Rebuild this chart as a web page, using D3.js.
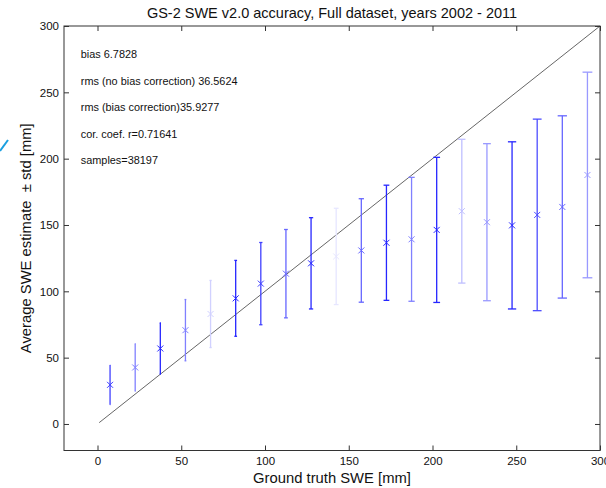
<!DOCTYPE html>
<html>
<head>
<meta charset="utf-8">
<script src="https://cdn.jsdelivr.net/npm/d3@7"></script>
<style>
  body { margin: 0; background: #fff; }
  svg { display: block; font-family: "Liberation Sans", Arial, sans-serif; }
</style>
</head>
<body>
<svg id="chart"></svg>
<script>
// bin centres of ground truth SWE [mm]
const binCenters = [7.5, 22.5, 37.5, 52.5, 67.5, 82.5, 97.5, 112.5, 127.5, 142.5,
  157.5, 172.5, 187.5, 202.5, 217.5, 232.5, 247.5, 262.5, 277.5, 292.5]
// average estimate per bin
const meanEstimate = [29.5, 42.6, 56.9, 70.7, 82.9, 94.7, 105.8, 113.3, 121.1, 126.3,
  130.8, 136.6, 139.2, 146.3, 160.4, 152.1, 149.7, 157.6, 163.6, 187.7]
// standard deviation per bin
const stdEstimate = [15.0, 17.9, 19.3, 23.1, 25.3, 28.6, 31.0, 33.3, 34.4, 36.3,
  39.0, 43.4, 46.7, 54.7, 54.2, 59.2, 63.0, 72.2, 68.7, 77.5]
// colour strength of each bin (as drawn)
const binShade = [0.75, 0.5, 0.85, 0.5, 0.18, 0.85, 0.75, 0.6, 0.85, 0.1,
  0.6, 0.85, 0.5, 0.85, 0.25, 0.4, 0.85, 0.7, 0.6, 0.4]
const statLines = [
  'bias 6.7828',
  'rms (no bias correction) 36.5624',
  'rms (bias correction)35.9277',
  'cor. coef. r=0.71641',
  'samples=38197'
]
const statY = [280, 260, 240, 220, 200]
const xTicks = [0, 50, 100, 150, 200, 250, 300]
const yTicks = [0, 50, 100, 150, 200, 250, 300]

const width = 606
const height = 488
const svg = d3.select('#chart').attr('width', width).attr('height', height)

const x = d3.scaleLinear().domain([-20, 300]).range([64, 600])
const y = d3.scaleLinear().domain([-20, 300]).range([450.5, 26])

const data = binCenters.map((c, i) => ({
  x: c, mean: meanEstimate[i], std: stdEstimate[i], shade: binShade[i]
}))
// blue mixed into white
const blue = s => d3.interpolateRgb('#ffffff', '#0000ff')(s)

// stray cyan stroke at the left edge
svg.append('line')
  .attr('x1', 0).attr('y1', 151).attr('x2', 8).attr('y2', 140)
  .attr('stroke', '#1a9fe0').attr('stroke-width', 2)

// 1:1 line
svg.append('line')
  .attr('x1', x(1)).attr('y1', y(1))
  .attr('x2', x(300)).attr('y2', y(300))
  .attr('stroke', '#555').attr('stroke-width', 0.9)

// error bars
const bars = svg.selectAll('.bar').data(data).enter().append('g').attr('class', 'bar')
  .attr('stroke', d => blue(d.shade))
  .attr('stroke-width', 1.3)
  .attr('fill', 'none')
bars.append('line')
  .attr('x1', d => x(d.x)).attr('x2', d => x(d.x))
  .attr('y1', d => y(d.mean - d.std)).attr('y2', d => y(d.mean + d.std))
// caps: half-width one hundredth of x
bars.each(function (d) {
  const g = d3.select(this)
  const tee = d.x / 100
  ;[d.mean - d.std, d.mean + d.std].forEach(v => {
    g.append('line')
      .attr('x1', x(d.x - tee)).attr('x2', x(d.x + tee))
      .attr('y1', y(v)).attr('y2', y(v))
  })
  const cx = x(d.x)
  const cy = y(d.mean)
  const m = 3
  g.append('path')
    .attr('d', `M${cx - m},${cy - m}L${cx + m},${cy + m}M${cx - m},${cy + m}L${cx + m},${cy - m}`)
    .attr('stroke-width', 1)
})

// axes box with inward ticks
const axisColor = '#333'
const frame = svg.append('g')
frame.append('rect')
  .attr('x', x(-20)).attr('y', y(300))
  .attr('width', x(300) - x(-20)).attr('height', y(-20) - y(300))
  .attr('fill', 'none').attr('stroke', axisColor).attr('stroke-width', 1)

const bottomAxis = d3.axisBottom(x).tickValues(xTicks).tickSizeInner(-5).tickSizeOuter(0).tickPadding(6)
const topAxis = d3.axisTop(x).tickValues(xTicks).tickSizeInner(-5).tickSizeOuter(0).tickFormat('')
const leftAxis = d3.axisLeft(y).tickValues(yTicks).tickSizeInner(-5).tickSizeOuter(0).tickPadding(5)
const rightAxis = d3.axisRight(y).tickValues(yTicks).tickSizeInner(-5).tickSizeOuter(0).tickFormat('')

function styleAxis (g) {
  g.select('.domain').remove()
  g.selectAll('.tick line').attr('stroke', axisColor)
  g.selectAll('.tick text').attr('fill', '#111').attr('font-size', 11.5)
    .attr('font-family', '"Liberation Sans", Arial, sans-serif')
}
svg.append('g').attr('transform', `translate(0,${y(-20)})`).call(bottomAxis).call(styleAxis)
svg.append('g').attr('transform', `translate(0,${y(300)})`).call(topAxis).call(styleAxis)
svg.append('g').attr('transform', `translate(${x(-20)},0)`).call(leftAxis).call(styleAxis)
svg.append('g').attr('transform', `translate(${x(300)},0)`).call(rightAxis).call(styleAxis)

// statistics text
svg.selectAll('.stat').data(statLines).enter().append('text')
  .attr('class', 'stat')
  .attr('x', x(-10))
  .attr('y', (d, i) => y(statY[i]))
  .attr('dy', '0.5em')
  .attr('font-size', 10.9)
  .attr('fill', '#111')
  .text(d => d)

// title and axis labels
svg.append('text')
  .attr('x', (x(-20) + x(300)) / 2).attr('y', 18)
  .attr('text-anchor', 'middle').attr('font-size', 14.5).attr('fill', '#111')
  .text('GS-2 SWE v2.0 accuracy, Full dataset, years 2002 - 2011')
svg.append('text')
  .attr('x', (x(-20) + x(300)) / 2).attr('y', 483)
  .attr('text-anchor', 'middle').attr('font-size', 14.8).attr('fill', '#111')
  .text('Ground truth SWE [mm]')
svg.append('text')
  .attr('transform', `translate(31,${(y(-20) + y(300)) / 2}) rotate(-90)`)
  .attr('text-anchor', 'middle').attr('font-size', 14.8).attr('fill', '#111')
  .style('white-space', 'pre')
  .text('Average SWE estimate  \u00b1 std [mm]')
</script>
</body>
</html>
